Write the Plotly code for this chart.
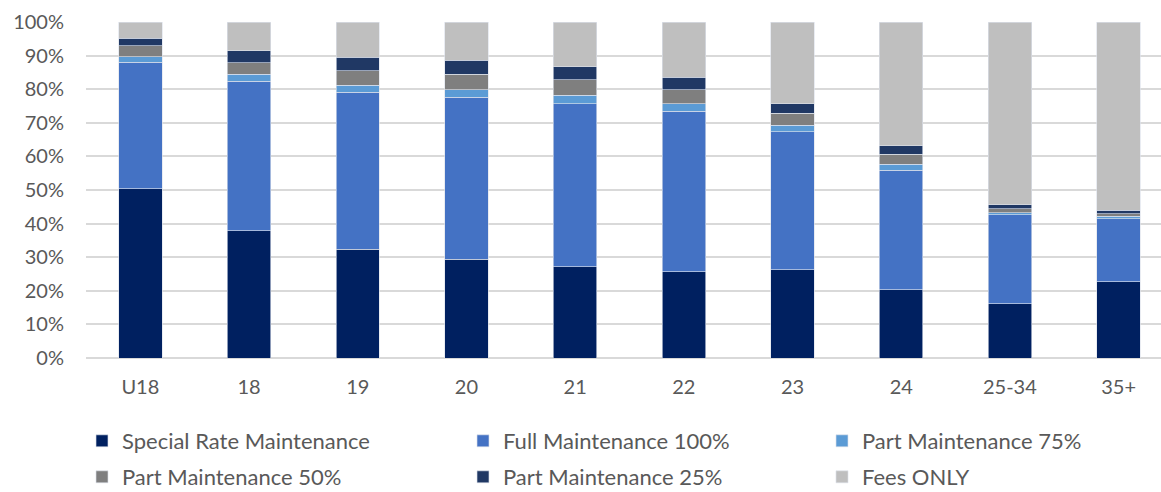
import plotly.graph_objects as go

categories = ["U18", "18", "19", "20", "21", "22", "23", "24", "25-34", "35+"]

special_rate = [50.4, 37.9, 32.3, 29.4, 27.2, 25.6, 26.2, 20.3, 16.1, 22.7]
full_100 = [37.6, 44.4, 46.8, 48.2, 48.5, 47.8, 41.2, 35.6, 26.5, 18.8]
part_75 = [1.6, 2.1, 2.1, 2.2, 2.5, 2.2, 1.9, 1.8, 0.6, 0.7]
part_50 = [3.3, 3.5, 4.3, 4.7, 4.6, 4.2, 3.6, 3.0, 1.2, 0.8]
part_25 = [2.2, 3.5, 4.0, 4.1, 3.9, 3.8, 2.8, 2.4, 1.2, 1.0]
fees_only = [4.9, 8.6, 10.5, 11.4, 13.3, 16.4, 24.3, 36.9, 54.4, 56.0]

series = [
    ("Special Rate Maintenance", special_rate, "#002060"),
    ("Full Maintenance 100%", full_100, "#4472C4"),
    ("Part Maintenance 75%", part_75, "#5B9BD5"),
    ("Part Maintenance 50%", part_50, "#7F7F7F"),
    ("Part Maintenance 25%", part_25, "#203864"),
    ("Fees ONLY", fees_only, "#BFBFBF"),
]

W, H = 1161, 492
M_L, M_T, M_B = 86, 22, 134
plot_w = W - M_L
plot_h = H - M_T - M_B

font_family = "Lato, 'Open Sans', sans-serif"
text_color = "#595959"

# legend grid: 3 columns x 2 rows below the plot (pixel positions of each entry)
legend_cols_px = [82, 463, 822]
legend_rows_px = [441, 477]

fig = go.Figure()
layout_legends = {}
for i, (name, values, color) in enumerate(series):
    key = "legend" if i == 0 else f"legend{i + 1}"
    fig.add_trace(go.Bar(
        name=name,
        x=categories,
        y=[v / 100 for v in values],
        marker=dict(color=color, line=dict(color="rgba(220,225,235,0.8)", width=0.8)),
        width=0.4,
        legend=key,
        showlegend=True,
    ))
    col, row = i % 3, i // 3
    layout_legends[key] = dict(
        xref="paper",
        yref="paper",
        x=(legend_cols_px[col] - M_L) / plot_w,
        y=(H - M_B - legend_rows_px[row]) / plot_h,
        xanchor="left",
        yanchor="middle",
        font=dict(family=font_family, size=22, color=text_color),
        bgcolor="rgba(0,0,0,0)",
    )

fig.update_layout(
    barmode="stack",
    showlegend=True,
    width=W,
    height=H,
    margin=dict(l=M_L, r=0, t=M_T, b=M_B, autoexpand=False),
    plot_bgcolor="white",
    paper_bgcolor="white",
    font=dict(family=font_family, size=20, color=text_color),
    xaxis=dict(
        range=[-0.5, 9.39],
        showgrid=False,
        showline=False,
        ticks="",
        ticklabelstandoff=15,
        tickfont=dict(size=20, color=text_color),
    ),
    yaxis=dict(
        range=[0, 1],
        tickformat=".0%",
        dtick=0.1,
        showgrid=True,
        gridcolor="#D9D9D9",
        gridwidth=1.5,
        zeroline=True,
        zerolinecolor="#D9D9D9",
        zerolinewidth=1.5,
        ticks="",
        ticklabelstandoff=21,
        tickfont=dict(size=20, color=text_color),
    ),
    bargap=0.6,
    **layout_legends,
)

fig.write_html("out.html")
